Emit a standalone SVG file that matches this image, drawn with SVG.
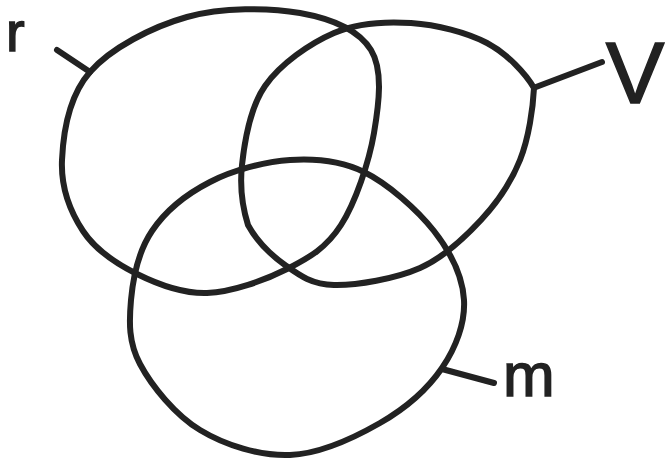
<svg xmlns="http://www.w3.org/2000/svg" width="668" height="462" viewBox="0 0 668 462">
<style>
.set{fill:none;stroke:#222;stroke-width:6;stroke-linejoin:round}
.lead{stroke:#222;stroke-width:6;stroke-linecap:round}
.lbl{font-family:"Liberation Sans",Arial,sans-serif;fill:#222;stroke:#222;stroke-width:1.5}
</style>
<rect width="668" height="462" fill="#fff"/>
<g id="set-r">
<path class="set" d="M90,72 C110.8,48.2 152,26.8 187,17 C222,7.2 269.3,7.5 300,13 C330.7,18.5 358.7,30 371,50 C383.3,70 379,103.8 374,133 C369,162.2 355.5,202.3 341,225 C326.5,247.7 309.3,257.7 287,269 C264.7,280.3 232,292.2 207,293 C182,293.8 157.7,284.3 137,274 C116.3,263.7 95.5,250 83,231 C70.5,212 60.8,186.5 62,160 C63.2,133.5 69.2,95.8 90,72 Z"/>
<text class="lbl" x="6" y="51" font-size="56">r</text>
</g>
<g id="set-V">
<path class="set" d="M242,165 C244.5,141.8 249.7,108 265,86 C280.3,64 309.7,43.5 334,33 C358.3,22.5 385.5,21.3 411,23 C436.5,24.7 466.5,32.2 487,43 C507.5,53.8 526,74 534,88 C533,108 528.8,138 520,160 C511.2,182 497.7,202 481,220 C464.3,238 444.5,257.2 420,268 C395.5,278.8 356.5,285.5 334,285 C311.5,284.5 299,275 285,265 C271,255 257.2,241.7 248,225 C242.8,208.3 239.5,188.2 242,165 Z"/>
<text class="lbl" x="635" y="103" font-size="88" text-anchor="middle">V</text>
</g>
<g id="set-m">
<path class="set" d="M290,160 C315.7,158.3 340,160.2 364,172 C388,183.8 417.3,209.7 434,231 C450.7,252.3 462.7,277.2 464,300 C465.3,322.8 456,347.5 442,368 C428,388.5 405.3,408.5 380,423 C354.7,437.5 320,453.8 290,455 C260,456.2 225,445.2 200,430 C175,414.8 151.5,385.7 140,364 C128.5,342.3 129,322.2 131,300 C133,277.8 138.8,250.7 152,231 C165.2,211.3 187,193.8 210,182 C233,170.2 264.3,161.7 290,160 Z"/>
<text class="lbl" x="503" y="396" font-size="62">m</text>
</g>
<g id="connectors">
<line class="lead" x1="57" y1="50" x2="90" y2="72"/>
<line class="lead" x1="536" y1="87" x2="602" y2="62"/>
<line class="lead" x1="442" y1="369" x2="494" y2="383"/>
</g>
</svg>
